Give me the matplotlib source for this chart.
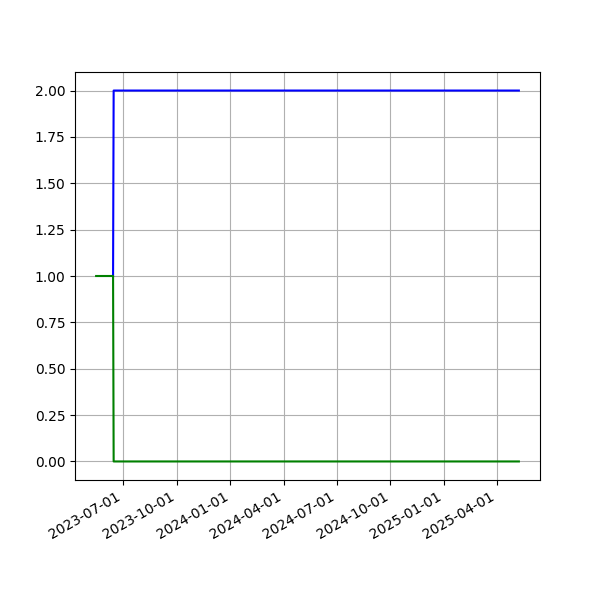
import matplotlib
matplotlib.use("Agg")
import matplotlib.pyplot as plt
import matplotlib.dates as mdates
import pandas as pd

blue_dates = pd.to_datetime(["2023-06-14", "2023-06-15", "2025-05-09"])
blue_values = [1, 2, 2]
green_dates = pd.to_datetime(["2023-05-16", "2023-06-14", "2023-06-15", "2025-05-09"])
green_values = [1, 1, 0, 0]

fig, ax = plt.subplots(figsize=(6, 6), dpi=100)
ax.plot(blue_dates, blue_values, color="blue")
ax.plot(green_dates, green_values, color="green")
ax.grid(True)
ax.xaxis.set_major_locator(mdates.MonthLocator(bymonth=[1, 4, 7, 10]))
ax.xaxis.set_major_formatter(mdates.DateFormatter("%Y-%m-%d"))
fig.autofmt_xdate()
fig.savefig("out.png")
